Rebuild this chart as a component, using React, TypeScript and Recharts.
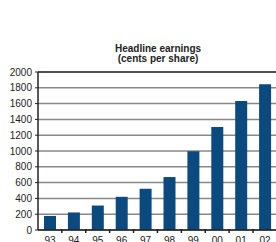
import { BarChart, Bar, XAxis, YAxis, CartesianGrid, ReferenceLine } from 'recharts';

// Headline earnings, cents per share
const years = ['93', '94', '95', '96', '97', '98', '99', '00', '01', '02'];
const earnings = [178, 222, 310, 420, 522, 670, 998, 1303, 1632, 1846];
const yTicks = [0, 200, 400, 600, 800, 1000, 1200, 1400, 1600, 1800, 2000];

const data = years.map((year, i) => ({ year, value: earnings[i] }));

const font = '"Liberation Sans", Arial, sans-serif';

// label at band centre, small tick mark at the band's left edge
function YearTick(props: any) {
  const { x, y, payload, index } = props;
  const half = 12;
  return (
    <g>
      {index > 0 && (
        <line x1={x - half} x2={x - half} y1={y - 9} y2={y - 5} stroke="#222" strokeWidth={1.5} />
      )}
      <text x={x} y={y} dy={6} textAnchor="middle" fontSize={10} fill="#222" fontFamily={font}>
        {payload.value}
      </text>
    </g>
  );
}

export default function App() {
  return (
    <div style={{ position: 'fixed', left: 0, top: 0, width: 276, height: 242, overflow: 'hidden', background: '#fff' }}>
      <div
        style={{
          position: 'absolute',
          left: 107,
          top: 44,
          width: 102,
          textAlign: 'center',
          fontFamily: font,
          fontWeight: 'bold',
          fontSize: 10,
          lineHeight: '10px',
          color: '#222',
        }}
      >
        Headline earnings
        <br />
        (cents per share)
      </div>
      <BarChart
        width={290}
        height={262}
        data={data}
        margin={{ top: 72, right: 13, left: 0, bottom: 12 }}
        barSize={12}
      >
        <CartesianGrid vertical={false} stroke="#888" strokeWidth={1.5} />
        <XAxis
          dataKey="year"
          tick={<YearTick />}
          tickLine={false}
          axisLine={{ stroke: '#222', strokeWidth: 1.5 }}
          interval={0}
          height={20}
        />
        <YAxis
          domain={[0, 2000]}
          ticks={yTicks}
          interval={0}
          width={38}
          tickSize={3}
          tickMargin={3}
          tickLine={{ stroke: '#222' }}
          axisLine={{ stroke: '#222', strokeWidth: 1.5 }}
          tick={{ fontSize: 10, fill: '#222', fontFamily: font }}
        />
        <ReferenceLine y={2000} stroke="#333" strokeWidth={1.5} />
        <Bar dataKey="value" fill="#0b4a7e" isAnimationActive={false} />
      </BarChart>
    </div>
  );
}
